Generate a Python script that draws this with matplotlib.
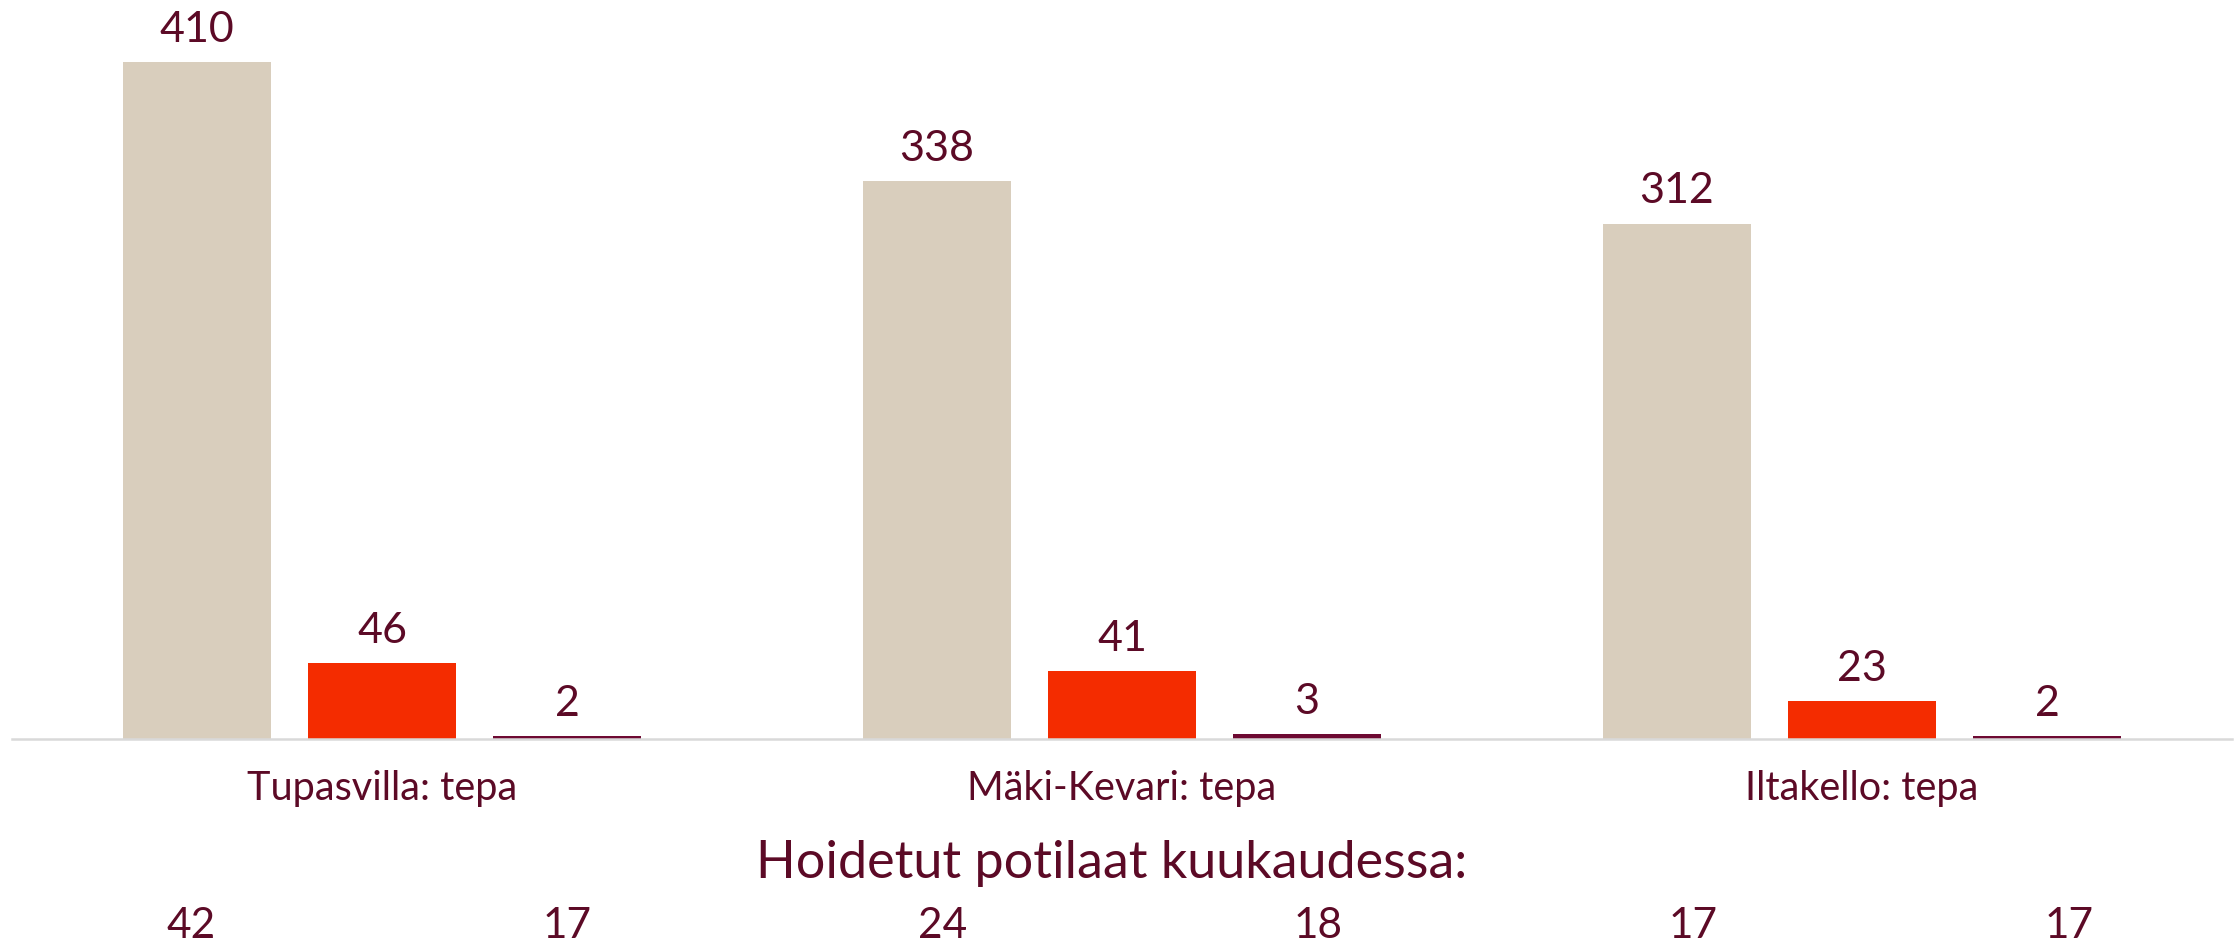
import matplotlib
matplotlib.use("Agg")
import matplotlib.pyplot as plt
import matplotlib.transforms as mtransforms
import numpy as np

plt.rcParams['font.family'] = ['Lato', 'DejaVu Sans']

categories = ["Tupasvilla: tepa", "Mäki-Kevari: tepa", "Iltakello: tepa"]
series_a = [410, 338, 312]
series_b = [46, 41, 23]
series_c = [2, 3, 2]
monthly_patients = ["42", "17", "24", "18", "17", "17"]
subtitle = "Hoidetut potilaat kuukaudessa:"

TEXT = "#5c0a26"
colors = ["#d9cebd", "#f42c00", "#6e0a32"]

W, H = 2239, 943
fig = plt.figure(figsize=(W / 100, H / 100), dpi=100)
base_px = 739
ax = fig.add_axes([12 / W, (H - base_px) / H, 2220 / W, base_px / H])

x = np.arange(len(categories))
width = 0.2
offsets = [-0.25, 0.0, 0.25]
for vals, off, col in zip([series_a, series_b, series_c], offsets, colors):
    bars = ax.bar(x + off, vals, width=width, color=col, linewidth=0)
    for b, v in zip(bars, vals):
        ax.annotate(str(v), (b.get_x() + b.get_width() / 2, v),
                    xytext=(0, 14.5), textcoords="offset points",
                    ha="center", va="baseline", fontsize=31, color=TEXT)

ax.set_xlim(-0.5, len(categories) - 0.5)
ax.set_ylim(0, 410 * base_px / 677.3)
for s in ["top", "left", "right"]:
    ax.spines[s].set_visible(False)
ax.spines["bottom"].set_color("#d9d9d9")
ax.spines["bottom"].set_linewidth(1.8)
ax.set_xticks([])
ax.set_yticks([])

trans = mtransforms.blended_transform_factory(ax.transData, fig.transFigure)
for i, cat in enumerate(categories):
    ax.text(i, (H - 800) / H, cat, transform=trans, ha="center", va="baseline",
            fontsize=28.5, color=TEXT)

col_start, col_step = -0.258, 0.5076
for k, num in enumerate(monthly_patients):
    ax.text(col_start + col_step * k, (H - 938) / H, num, transform=trans,
            ha="center", va="baseline", fontsize=30.5, color=TEXT)

fig.text(1112 / W, (H - 878) / H, subtitle, ha="center", va="baseline",
         fontsize=37.5, color=TEXT)

fig.savefig("out.png", dpi=100, facecolor="white")
